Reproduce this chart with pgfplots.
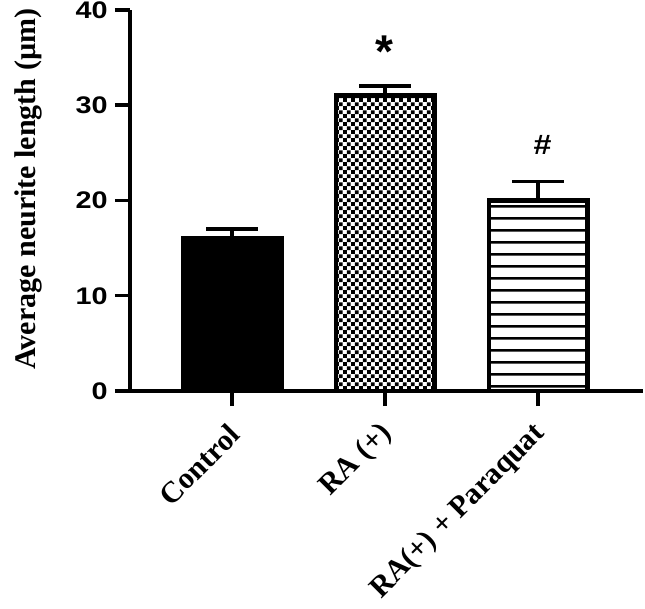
\documentclass[border=0pt]{standalone}
\usepackage{fontspec}
\setmainfont{Liberation Serif}
\newfontfamily\arialf{Liberation Sans}
\usepackage{pgfplots}
\pgfplotsset{compat=1.18}
\usetikzlibrary{patterns.meta}
\tikzdeclarepattern{name=checker, bounding box={(0,0) and (7.8pt,7.8pt)}, tile size={(7.8pt,7.8pt)},
  code={\fill[black] (0,0) rectangle (3.9pt,3.9pt); \fill[black] (3.9pt,3.9pt) rectangle (7.8pt,7.8pt);}}
\tikzdeclarepattern{name=hlines, bounding box={(0,0) and (120pt,12pt)}, tile size={(120pt,12pt)},
  code={\fill[black] (0,4.8pt) rectangle (120pt,7.3pt);}}
\begin{document}
\begin{tikzpicture}
\useasboundingbox (0,0) rectangle (645pt,608pt);
\begin{axis}[
  at={(130pt,217pt)}, anchor=south west,
  scale only axis, width=513pt, height=381pt,
  xmin=-0.667, xmax=2.686, ymin=0, ymax=40,
  axis x line*=bottom, axis y line*=left,
  axis line style={line width=3.5pt, -},
  every tick/.style={black, line width=3.5pt},
  major tick length=15pt, tick align=outside,
  xtick={0,1,2}, xticklabels={Control, RA (+), RA(+) + Paraquat},
  ytick={0,10,20,30,40},
  /pgf/number format/assume math mode=true,
  yticklabel style={font=\arialf\bfseries\fontsize{24}{28}\selectfont, xscale=1.2, anchor=east, inner sep=0pt, xshift=-6pt},
  xticklabel style={xshift=4pt, yshift=-22pt, font=\bfseries\fontsize{30}{34}\selectfont, rotate=45, anchor=east, inner sep=2pt},
  ylabel={Average neurite length (µm)},
  ylabel style={font=\bfseries\fontsize{30}{34}\selectfont, at={(axis description cs:-0.199,0.53)}, anchor=center},
  ybar, bar width=0.644, bar shift=0pt,
  clip=false,
]
\addplot[draw=black, line width=4.5pt, fill=black,
  error bars/.cd, y dir=plus, y explicit,
  error bar style={line width=3.5pt},
  error mark options={rotate=90, mark size=26pt, line width=3.5pt}]
  coordinates {(0,16) +- (0,1)};
\addplot[draw=black, line width=4.5pt, pattern={checker},
  error bars/.cd, y dir=plus, y explicit,
  error bar style={line width=3.5pt},
  error mark options={rotate=90, mark size=26pt, line width=3.5pt}]
  coordinates {(1,31) +- (0,1)};
\addplot[draw=black, line width=4.5pt, pattern={hlines},
  error bars/.cd, y dir=plus, y explicit,
  error bar style={line width=3.5pt},
  error mark options={rotate=90, mark size=26pt, line width=3.5pt}]
  coordinates {(2,20) +- (0,2)};
\node[font=\arialf\bfseries\fontsize{46}{46}\selectfont, anchor=center] at (axis cs:0.995,35.6) {*};
\node[font=\arialf\bfseries\fontsize{28}{28}\selectfont, xscale=1.15, anchor=center] at (axis cs:2.03,25.8) {\#};
\end{axis}
\end{tikzpicture}
\end{document}
